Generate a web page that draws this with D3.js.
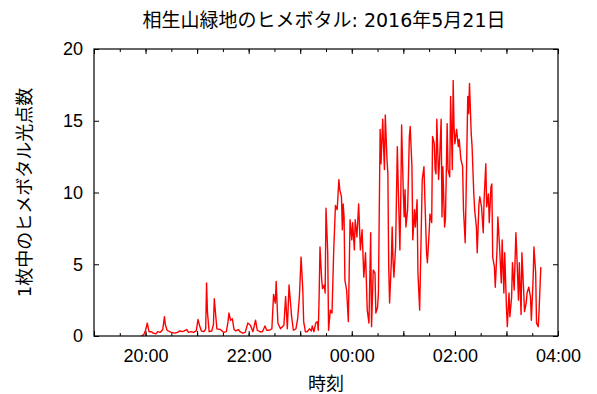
<!DOCTYPE html>
<html>
<head>
<meta charset="utf-8">
<script src="https://cdn.jsdelivr.net/npm/d3@7"></script>
<style>
  body { margin: 0; background: #fff; }
  svg { display: block; font-family: "DejaVu Sans", "Noto Sans CJK JP", sans-serif; }
</style>
</head>
<body>
<svg id="chart" width="597" height="394"></svg>
<script>
// 光点数の観測値（時刻は 5/21 19:00 〜 5/22 04:00）
const times = [
  '19:55', '19:58', '20:00', '20:02', '20:04', '20:07', '20:09', '20:12', '20:14', '20:17',
  '20:20', '20:22', '20:23', '20:25', '20:28', '20:30', '20:34', '20:37', '20:40', '20:43',
  '20:45', '20:48', '20:50', '20:53', '20:56', '20:59', '21:01', '21:03', '21:05', '21:08',
  '21:10', '21:11', '21:12', '21:14', '21:17', '21:19', '21:20', '21:22', '21:23', '21:27',
  '21:31', '21:34', '21:36', '21:37', '21:39', '21:41', '21:43', '21:45', '21:48', '21:50',
  '21:53', '21:56', '21:59', '22:02', '22:05', '22:08', '22:10', '22:13', '22:16', '22:19',
  '22:21', '22:24', '22:27', '22:29', '22:31', '22:32', '22:34', '22:37', '22:41', '22:43',
  '22:45', '22:47', '22:50', '22:52', '22:55', '22:57', '22:59', '23:01', '23:03', '23:04',
  '23:06', '23:08', '23:11', '23:13', '23:14', '23:16', '23:18', '23:20', '23:21', '23:22',
  '23:23', '23:25', '23:26', '23:28', '23:29', '23:30', '23:32', '23:33', '23:35', '23:37',
  '23:39', '23:41', '23:43', '23:45', '23:46', '23:48', '23:49', '23:50', '23:51', '23:52',
  '23:54', '23:56', '23:58', '00:00', '00:01', '00:03', '00:04', '00:06', '00:08', '00:10',
  '00:12', '00:14', '00:16', '00:18', '00:20', '00:22', '00:23', '00:25', '00:27', '00:28',
  '00:30', '00:31', '00:33', '00:34', '00:36', '00:37', '00:38', '00:39', '00:41', '00:42',
  '00:43', '00:44', '00:46', '00:47', '00:48', '00:49', '00:51', '00:53', '00:54', '00:56',
  '00:57', '00:58', '01:00', '01:01', '01:02', '01:03', '01:05', '01:07', '01:08', '01:10',
  '01:11', '01:13', '01:14', '01:16', '01:17', '01:19', '01:20', '01:22', '01:24', '01:25',
  '01:27', '01:28', '01:30', '01:31', '01:33', '01:34', '01:36', '01:37', '01:38', '01:39',
  '01:41', '01:42', '01:44', '01:45', '01:46', '01:48', '01:49', '01:51', '01:52', '01:54',
  '01:55', '01:57', '01:58', '01:59', '02:00', '02:02', '02:04', '02:05', '02:07', '02:09',
  '02:10', '02:12', '02:13', '02:15', '02:16', '02:17', '02:19', '02:20', '02:22', '02:23',
  '02:25', '02:26', '02:28', '02:29', '02:31', '02:33', '02:34', '02:36', '02:37', '02:39',
  '02:40', '02:42', '02:43', '02:44', '02:46', '02:47', '02:49', '02:50', '02:52', '02:54',
  '02:55', '02:57', '02:58', '03:00', '03:01', '03:03', '03:04', '03:06', '03:07', '03:09',
  '03:11', '03:12', '03:14', '03:15', '03:17', '03:18', '03:20', '03:21', '03:23', '03:24',
  '03:26', '03:28', '03:29', '03:31', '03:32', '03:34', '03:35', '03:37', '03:38', '03:40'
];
const counts = [
  0.0, 0.1, 0.4, 0.9, 0.3, 0.3, 0.2, 0.15, 0.3, 0.25,
  0.45, 1.35, 0.8, 0.4, 0.3, 0.25, 0.2, 0.25, 0.35, 0.3,
  0.35, 0.45, 0.25, 0.3, 0.25, 0.35, 1.15, 0.7, 0.35, 0.3,
  0.5, 3.7, 1.7, 0.3, 0.35, 0.8, 2.6, 1.2, 0.5, 0.45,
  0.25, 0.3, 1.0, 1.6, 1.1, 1.2, 0.45, 0.35, 0.45, 0.3,
  0.2, 0.25, 0.9, 0.75, 0.3, 1.1, 0.4, 0.3, 0.3, 0.7,
  0.4, 0.4, 0.5, 2.9, 2.3, 3.8, 0.9, 0.5, 0.75, 2.75,
  0.5, 3.55, 1.35, 0.4, 0.5, 1.2, 2.7, 5.5, 3.2, 1.0,
  0.3, 0.3, 0.5, 0.35, 0.7, 0.3, 0.9, 1.0, 0.4, 2.7,
  6.2, 3.9, 3.3, 3.55, 3.0, 8.9, 5.8, 0.4, 1.8, 1.6,
  6.0, 9.1, 8.8, 10.9, 10.2, 9.7, 7.4, 9.2, 8.3, 3.9,
  3.2, 1.0, 8.1, 6.7, 7.9, 6.0, 8.1, 6.9, 9.2, 6.0,
  7.4, 4.1, 5.8, 1.8, 0.9, 7.2, 0.65, 4.6, 4.4, 1.6,
  2.0, 3.0, 14.4, 12.0, 15.1, 13.2, 11.6, 15.4, 12.3, 11.3,
  4.8, 2.3, 5.1, 7.6, 5.3, 4.1, 6.2, 13.2, 10.6, 6.0,
  9.5, 14.7, 9.9, 8.3, 10.2, 7.6, 8.8, 13.9, 14.6, 11.8,
  6.7, 8.8, 7.6, 9.5, 4.4, 1.8, 4.8, 10.9, 11.8, 9.7,
  5.8, 5.1, 7.2, 8.5, 7.9, 13.9, 13.4, 11.6, 11.3, 15.1,
  10.9, 12.0, 15.1, 8.3, 11.8, 7.6, 8.1, 14.8, 11.6, 11.1,
  16.7, 11.6, 17.8, 14.6, 13.4, 14.4, 13.2, 13.7, 12.3, 11.8,
  8.8, 6.5, 9.7, 16.7, 15.5, 17.6, 14.1, 13.2, 9.9, 8.8,
  7.6, 5.8, 9.2, 9.7, 9.0, 7.2, 9.5, 12.0, 9.0, 9.9,
  7.9, 10.4, 10.6, 5.5, 4.8, 3.4, 6.0, 8.3, 6.2, 3.7,
  6.7, 3.0, 5.8, 2.0, 0.65, 3.0, 1.35, 2.7, 5.1, 3.2,
  7.2, 5.8, 2.5, 5.1, 1.5, 5.8, 3.2, 1.7, 2.3, 3.0,
  3.4, 2.7, 1.1, 3.9, 6.2, 4.4, 0.9, 0.65, 1.8, 4.8
];
const yTicks = [0, 5, 10, 15, 20];
const titleText = '相生山緑地のヒメボタル: 2016年5月21日';
const xLabel = '時刻';
const yLabel = '1枚中のヒメボタル光点数';

const margin = { top: 49, right: 39, bottom: 58, left: 94 };
const width = 597 - margin.left - margin.right;
const height = 394 - margin.top - margin.bottom;

// 正午より前の時刻は翌日扱い
const parseTime = s => {
  const [h, m] = s.split(':').map(Number);
  return new Date(2016, 4, h < 12 ? 22 : 21, h, m);
};
const data = times.map((t, i) => ({ t: parseTime(t), v: counts[i] }));

const svg = d3.select('#chart');
const g = svg.append('g').attr('transform', `translate(${margin.left},${margin.top})`);

const x = d3.scaleTime()
  .domain([new Date(2016, 4, 21, 19, 0), new Date(2016, 4, 22, 4, 0)])
  .range([0, width]);
const y = d3.scaleLinear().domain([0, 20]).range([height, 0]);

const styleAxis = sel => {
  sel.select('.domain').remove();
  sel.selectAll('line').attr('stroke', '#000');
  sel.selectAll('text').attr('fill', '#000').style('font-size', '18px');
};

// 内向きの目盛り（上下左右）
const minor = d3.timeMinute.every(30);
const hourly = d3.timeHour.every(1);
const labelled = d3.timeHour.every(2);

g.append('g')
  .attr('transform', `translate(0,${height})`)
  .call(d3.axisBottom(x).ticks(minor).tickSize(-3).tickFormat(''))
  .call(styleAxis);
g.append('g')
  .attr('transform', `translate(0,${height})`)
  .call(d3.axisBottom(x).ticks(hourly).tickSize(-5).tickFormat(''))
  .call(styleAxis);
g.append('g')
  .attr('transform', `translate(0,${height})`)
  .call(d3.axisBottom(x).ticks(labelled).tickSize(0).tickPadding(13).tickFormat(d3.timeFormat('%H:%M')))
  .call(styleAxis);

g.append('g')
  .call(d3.axisTop(x).ticks(minor).tickSize(-3).tickFormat(''))
  .call(styleAxis);
g.append('g')
  .call(d3.axisTop(x).ticks(hourly).tickSize(-5).tickFormat(''))
  .call(styleAxis);

g.append('g')
  .call(d3.axisLeft(y).tickValues(yTicks).tickSize(-5).tickPadding(11))
  .call(styleAxis);
g.append('g')
  .attr('transform', `translate(${width},0)`)
  .call(d3.axisRight(y).tickValues(yTicks).tickSize(-5).tickFormat(''))
  .call(styleAxis);

const line = d3.line()
  .x(d => x(d.t))
  .y(d => y(d.v));

g.append('path')
  .datum(data)
  .attr('fill', 'none')
  .attr('stroke', '#ff0000')
  .attr('stroke-width', 1.4)
  .attr('stroke-linejoin', 'round')
  .attr('d', line);

g.append('rect')
  .attr('width', width)
  .attr('height', height)
  .attr('fill', 'none')
  .attr('stroke', '#000')
  .attr('stroke-width', 1.2);

svg.append('text')
  .attr('x', margin.left + width / 2 - 2)
  .attr('y', 27)
  .attr('text-anchor', 'middle')
  .style('font-size', '19px')
  .text(titleText);

svg.append('text')
  .attr('x', margin.left + width / 2)
  .attr('y', 390)
  .attr('text-anchor', 'middle')
  .style('font-size', '18px')
  .text(xLabel);

svg.append('text')
  .attr('transform', `translate(31,${margin.top + height / 2}) rotate(-90)`)
  .attr('text-anchor', 'middle')
  .style('font-size', '18px')
  .text(yLabel);
</script>
</body>
</html>
